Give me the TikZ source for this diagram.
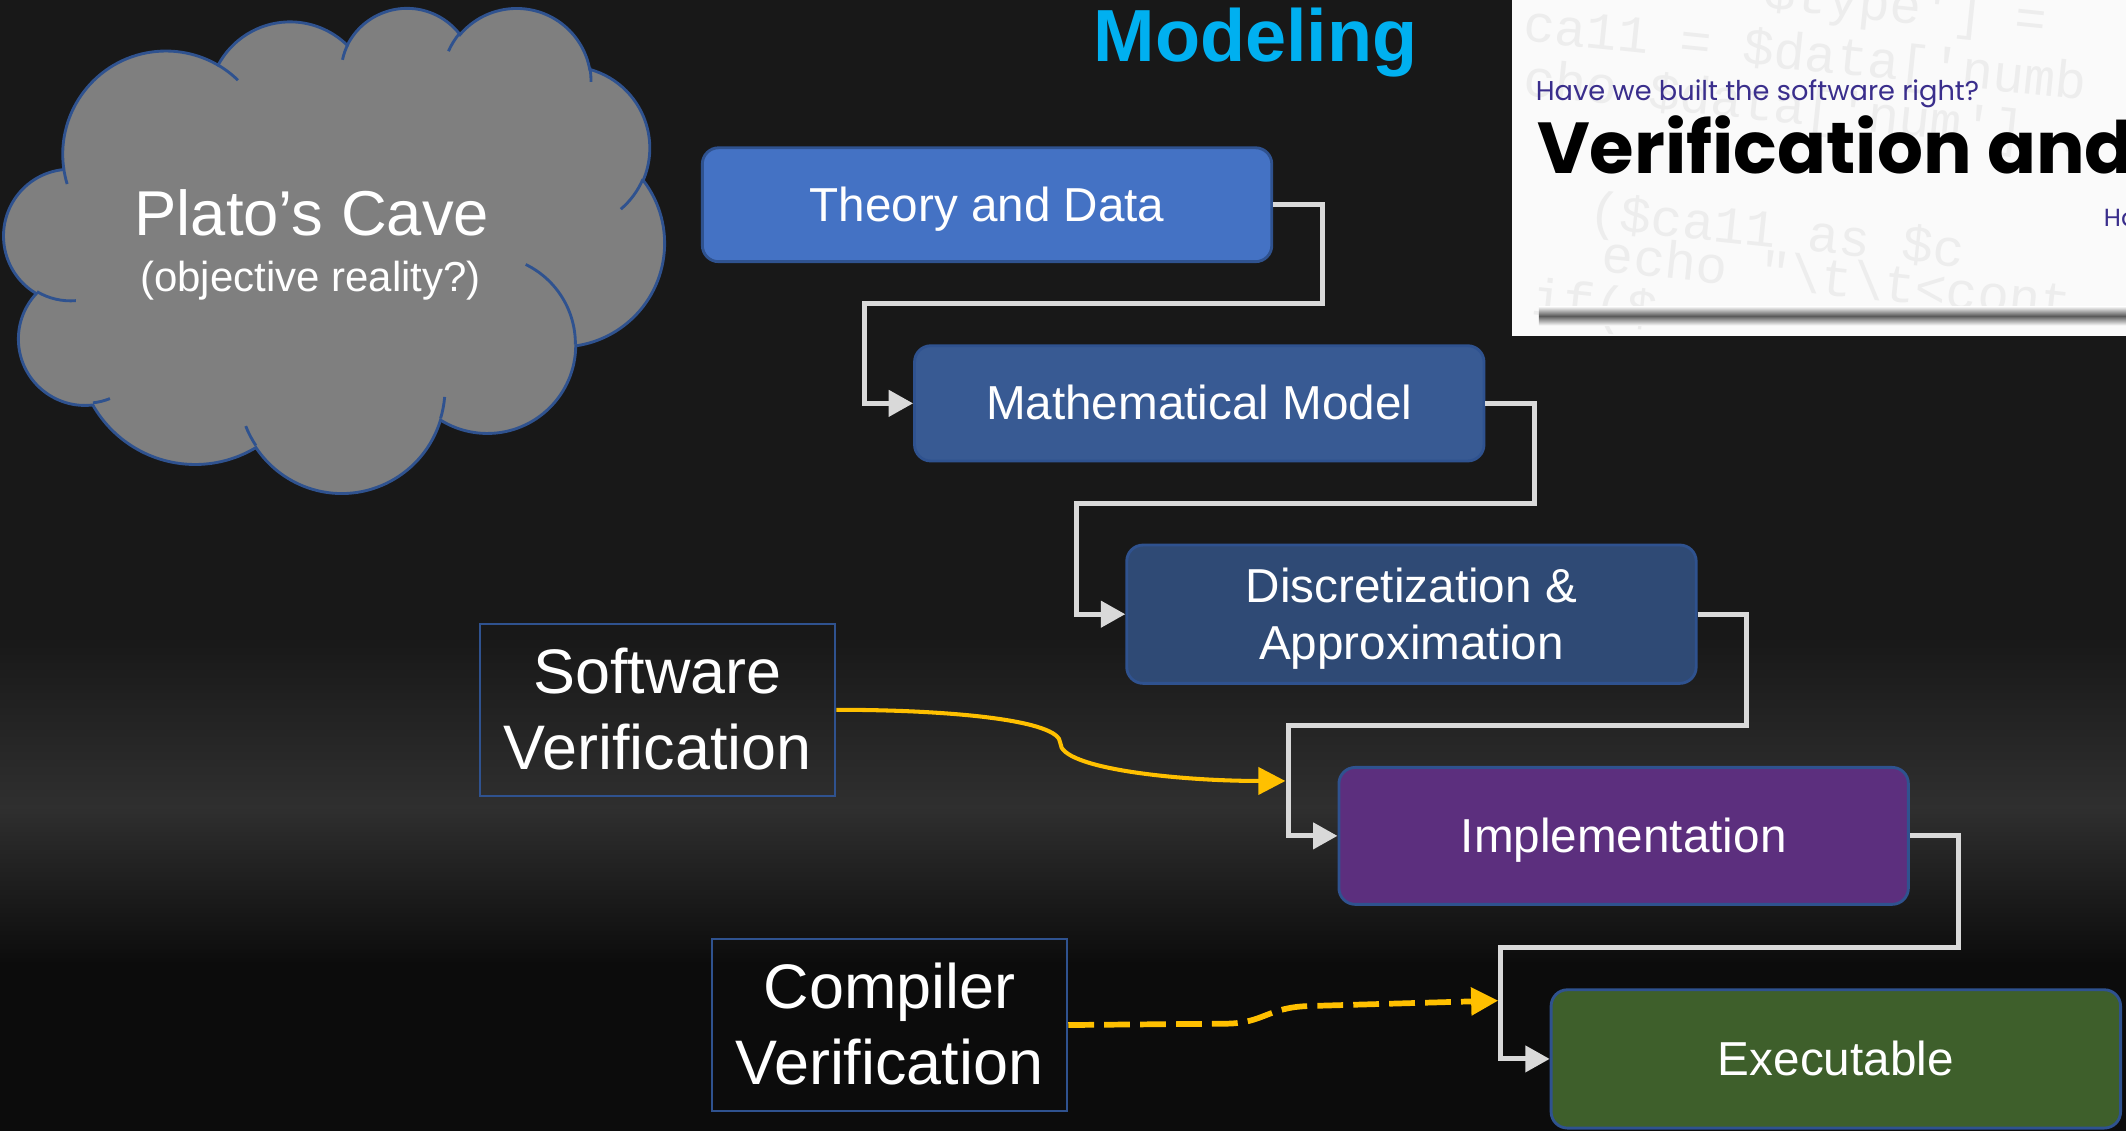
\documentclass[tikz,border=0pt]{standalone}
\usepackage{fontspec}
\setmainfont{Liberation Sans}
\newfontfamily\gothic{Poppins}
\newfontfamily\codefont{Liberation Mono}
\usetikzlibrary{arrows.meta,calc}

\definecolor{bgtop}{HTML}{181818}
\definecolor{bgmid}{HTML}{2F2F2F}
\definecolor{bgbot}{HTML}{0C0C0C}
\definecolor{cavegray}{HTML}{7F7F7F}
\definecolor{edgeblue}{HTML}{2F528F}
\definecolor{theoryblue}{HTML}{4472C4}
\definecolor{modelblue}{HTML}{385A93}
\definecolor{discblue}{HTML}{2F4A75}
\definecolor{implpurple}{HTML}{5C2F7E}
\definecolor{execgreen}{HTML}{3E5F2B}
\definecolor{flowgray}{HTML}{D9D9D9}
\definecolor{gold}{HTML}{FFC000}
\definecolor{modelcyan}{HTML}{00B0F0}
\definecolor{paper}{HTML}{FAFAFA}
\definecolor{askblue}{HTML}{3A2E8C}
\definecolor{ghostgray}{HTML}{EDEDED}

% one lobe of the office cloud, angles as seen on the ellipse
\newcommand\cloudarc[4]{arc[x radius=#1,y radius=#2,start angle={atan2(#1*sin(#3),#2*cos(#3))},delta angle={mod(atan2(#1*sin(#3+#4),#2*cos(#3+#4))-atan2(#1*sin(#3),#2*cos(#3))+720,360)}]}

\tikzset{
  stage/.style={draw=edgeblue,line width=0.6pt,rounded corners=1.2mm,minimum width=42mm,inner sep=0pt,
    align=center,text=white,font=\fontsize{10}{12}\selectfont,text height=9.05pt,text depth=2.12pt},
  vbox/.style={draw=edgeblue,line width=0.5pt,minimum width=26.2mm,minimum height=12.7mm,inner sep=0pt,
    align=center,text=white,font=\fontsize{13.2}{15.9}\selectfont,text height=27.85pt,text depth=2.8pt},
  flow/.style={->,>={Triangle[length=1.8mm,width=1.9mm]},draw=flowgray,line width=1.05pt},
  check/.style={->,>={Triangle[length=2mm,width=2mm]},draw=gold,line width=0.85pt},
  guess/.style={check,line width=1.2pt,dash pattern=on 1.9mm off 0.75mm},
  codeghost/.style={anchor=base west,rotate=-6,inner sep=0pt,text=ghostgray,font=\codefont\fontsize{11}{13}\selectfont}
}

\begin{document}
\begin{tikzpicture}[x=0.1mm,y=-0.1mm]
    \useasboundingbox (0,0) rectangle (1568,834);
    \fill[bgtop] (0,0) rectangle (1568,470);
    \shade[top color=bgtop,bottom color=bgmid] (0,469) rectangle (1568,596);
    \shade[top color=bgmid,bottom color=bgbot] (0,595) rectangle (1568,711);
    \fill[bgbot] (0,710) rectangle (1568,834);

    % the cave
    \begin{scope}[shift={(3,5)},x=0.011273mm,y=-0.008287mm]
        \filldraw[fill=cavegray,draw=edgeblue,line width=0.6pt] (390,1437)
            \cloudarc{675.3}{919}{-190.4875}{123.7805}
            \cloudarc{533.3}{726.7}{-144.1024}{89.9452}
            \cloudarc{436.5}{594.5}{-145.8079}{99.7230}
            \cloudarc{485.7}{659.5}{-130.9861}{117.2417}
            \cloudarc{533.3}{727.3}{-78.7089}{109.0269}
            \cloudarc{677.5}{922}{-46.2673}{130.2690}
            \cloudarc{578.5}{786.7}{0.6250}{114.0333}
            \cloudarc{675.2}{921.5}{22.4516}{115.1726}
            \cloudarc{772}{1054.3}{66.2426}{75.7110}
            \cloudarc{436}{591.8}{-274.9421}{146.7356}
            \cloudarc{434.5}{594.5}{-246.8285}{152.5189} -- cycle;
        \draw[edgeblue,line width=0.6pt]
            (469.3,2617.7) \cloudarc{434.5}{594.5}{86.7420}{26.4295}
            (692.8,3489.9) \cloudarc{436}{591.8}{73.6105}{11.4475}
            (1647.8,3909) \cloudarc{675.2}{921.5}{137.6242}{14.0811}
            (2882.7,3475.1) \cloudarc{675.2}{921.5}{6.4533}{15.9984}
            (3412.9,2295.4) \cloudarc{578.5}{786.7}{-70.2924}{70.9174}
            (4179.8,1535.4) \cloudarc{533.3}{727.3}{30.3180}{27.7515}
            (3832.4,542.6) \cloudarc{485.7}{659.5}{-13.7443}{14.8589}
            (2907.8,395.2) \cloudarc{485.7}{659.5}{-149.1815}{18.1954}
            (2214.1,472) \cloudarc{436.5}{594.5}{-163.4943}{17.6864}
            (1400,519.2) \cloudarc{675.3}{919}{-66.7070}{12.3194}
            (412.7,1578.9) \cloudarc{675.3}{919}{157.6544}{11.8582};
    \end{scope}
    \node[anchor=base,text=white,font=\fontsize{13.3}{16}\selectfont] (cave) at (230,174) {Plato’s Cave};
    \node[anchor=base,text=white,font=\fontsize{8.8}{11}\selectfont] (cavenote) at (229,215) {(objective reality?)};

    \node[anchor=base,text=modelcyan,font=\fontsize{15.5}{18}\selectfont\bfseries] (title) at (926,45) {Modeling};

    % the picture in the corner
    \begin{scope}
        \clip (1115,0) rectangle (1568,248);
        \fill[paper] (1115,0) rectangle (1568,248);
        \node[codeghost] (g1) at (1300,6) {\$type'] =};
        \node[codeghost] (g2) at (1122,30) {ca11 = \$data['numb};
        \node[codeghost] (g3) at (1122,70) {cho \$data['num'] . \$conte};
        \node[codeghost] (g4) at (1170,168) {(\$ca11 as \$c};
        \node[codeghost] (g5) at (1180,200) {echo "\textbackslash t\textbackslash t<cont};
        \node[codeghost] (g6) at (1128,232) {if(\$};
        \node[anchor=base west,inner sep=0pt,text=askblue] (ask) at (1132,74) {\resizebox{32.7mm}{!}{\gothic Have we built the software right?}};
        \node[anchor=base west,inner sep=0pt,text=black] (vandv) at (1133,128) {\resizebox{44mm}{!}{\gothic\bfseries Verification and}};
        \node[anchor=base west,inner sep=0pt,text=askblue,font=\gothic\fontsize{5.2}{6}\selectfont] (ask2) at (1551,167) {Ha};
        \shade[top color=paper,bottom color=paper,middle color=black!65] (1135,226) rectangle (1568,240);
    \end{scope}

    \node[stage,fill=theoryblue,minimum height=8.4mm] (theory) at (728,151) {Theory and Data};
    \node[stage,fill=modelblue,minimum height=8.5mm] (model) at (884.5,297.5) {Mathematical Model};
    \node[stage,fill=discblue,minimum height=10.2mm,text height=21.05pt] (discrete) at (1041,453) {Discretization \&\\Approximation};
    \node[stage,fill=implpurple,minimum height=10.1mm] (impl) at (1197.5,616.5) {Implementation};
    \node[stage,fill=execgreen,minimum height=10.2mm] (exec) at (1354,781) {Executable};

    \draw[flow] (theory.east) -- ++(36,0) |- ($(theory.south)!.5!(model.north)$) -| ($(model.west)+(-36,0)$) -- (model.west);
    \draw[flow] (model.east) -- ++(36,0) |- ($(model.south)!.5!(discrete.north)$) -| ($(discrete.west)+(-36,0)$) -- (discrete.west);
    \draw[flow] (discrete.east) -- ++(36,0) |- ($(discrete.south)!.5!(impl.north)$) -| ($(impl.west)+(-36,0)$) -- (impl.west);
    \draw[flow] (impl.east) -- ++(36,0) |- ($(impl.south)!.5!(exec.north)$) -| ($(exec.west)+(-36,0)$) -- (exec.west);

    \node[vbox] (softver) at (485,523.5) {Software\\Verification};
    \node[vbox] (compver) at (656,756) {Compiler\\Verification};
    \coordinate (svend) at (948,576);
    \coordinate (cvend) at (1105,738);
    \draw[check] (softver.east) .. controls (700,523.5) and (782,531) .. (782,548) .. controls (782,567) and (870,576) .. (svend);
    \draw[guess] (compver.east) -- (905,755) .. controls (932,754.5) and (935,743) .. (965,742) -- (cvend);
\end{tikzpicture}
\end{document}
